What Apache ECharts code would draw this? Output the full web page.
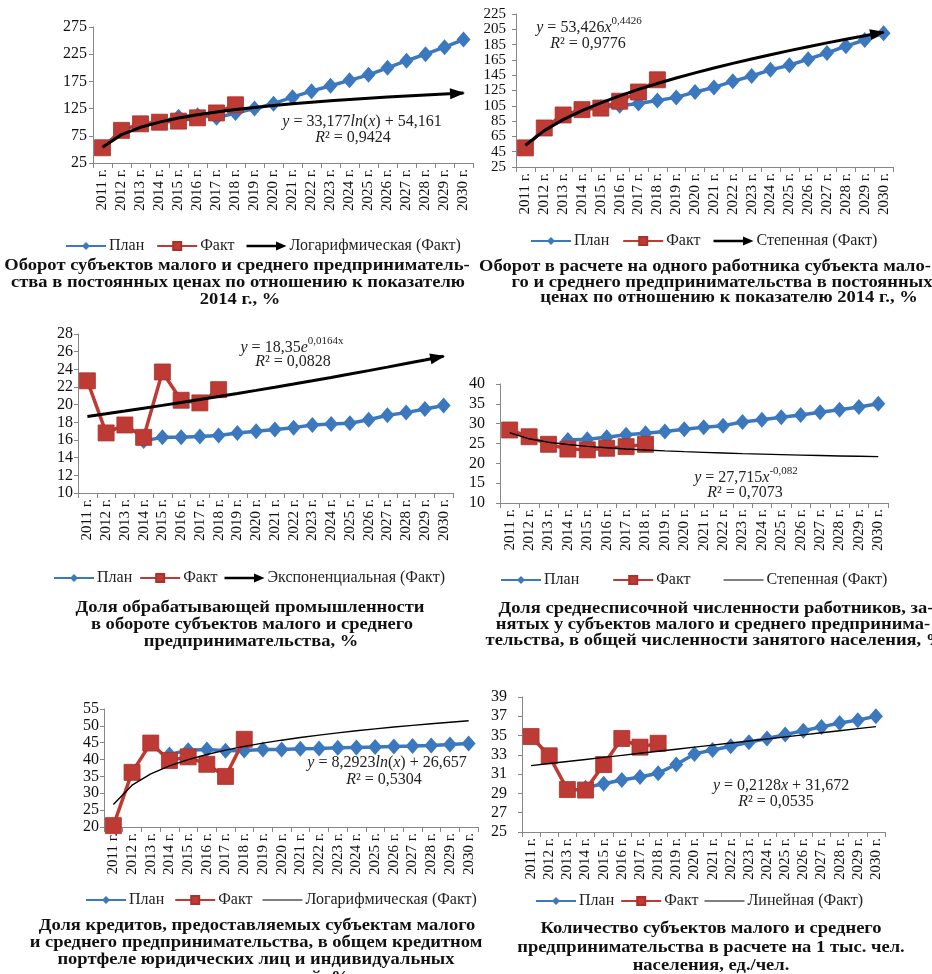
<!DOCTYPE html>
<html>
<head>
<meta charset="utf-8">
<script src="https://cdn.jsdelivr.net/npm/echarts@6/dist/echarts.min.js"></script>
<style>
  html, body { margin: 0; padding: 0; background: #ffffff; }
  #chart { width: 932px; height: 974px; }
</style>
</head>
<body>
<div id="chart"></div>
<script>
// Years on every horizontal axis
const years = ['2011 г.', '2012 г.', '2013 г.', '2014 г.', '2015 г.', '2016 г.', '2017 г.',
  '2018 г.', '2019 г.', '2020 г.', '2021 г.', '2022 г.', '2023 г.', '2024 г.', '2025 г.',
  '2026 г.', '2027 г.', '2028 г.', '2029 г.', '2030 г.'];

// 1. Turnover, % of 2014
const turnoverPlan = [null, null, null, 100, 110, 113, 108, 117, 125, 134, 146, 157, 167, 177, 187, 200, 213, 225, 238, 252];
const turnoverFact = [53, 85, 97, 100, 102, 108, 117, 132];
const turnoverTrend = [33.177, 54.161];            // y = a*ln(x) + b

// 2. Turnover per worker, % of 2014
const perWorkerPlan = [null, null, null, 100, 103, 105, 108, 112, 116, 123, 129, 137, 144, 152, 158, 166, 174, 183, 191, 200];
const perWorkerFact = [50, 76, 93, 100, 102, 111, 123, 139];
const perWorkerTrend = [53.426, 0.4426];           // y = a*x^b

// 3. Manufacturing share, %
const manufPlan = [null, null, null, 15.9, 16.3, 16.3, 16.4, 16.5, 16.8, 17.0, 17.2, 17.4, 17.7, 17.8, 17.9, 18.3, 18.8, 19.1, 19.5, 19.9];
const manufFact = [22.7, 16.8, 17.7, 16.3, 23.7, 20.5, 20.2, 21.7];
const manufTrend = [18.35, 0.0164];                // y = a*e^(b*x)

// 4. Employment share, %
const employPlan = [null, null, null, 25.9, 26.1, 26.6, 27.2, 27.6, 28.0, 28.6, 29.1, 29.5, 30.4, 31.0, 31.6, 32.2, 32.9, 33.5, 34.2, 35.0];
const employFact = [28.4, 26.7, 24.8, 23.6, 23.4, 23.8, 24.2, 24.8];
const employTrend = [27.715, -0.082];              // y = a*x^b

// 5. Credit share, %
const creditPlan = [null, null, null, 41.5, 42.8, 43.0, 42.6, 42.7, 43.0, 43.0, 43.2, 43.3, 43.5, 43.6, 43.7, 43.9, 44.0, 44.2, 44.5, 44.8];
const creditFact = [20.4, 36.2, 44.9, 39.7, 40.8, 38.6, 35.0, 46.0];
const creditTrend = [8.2923, 26.657];              // y = a*ln(x) + b

// 6. Enterprises per 1000 people
const countPlan = [null, null, null, 29.6, 30.0, 30.4, 30.7, 31.1, 32.0, 33.1, 33.5, 33.9, 34.3, 34.7, 35.1, 35.5, 35.9, 36.3, 36.6, 37.0];
const countFact = [34.9, 32.9, 29.4, 29.35, 32.0, 34.7, 33.8, 34.2];
const countTrend = [0.2128, 31.672];               // y = a*x + b

const SERIF = "'Liberation Serif', 'Times New Roman', serif";
const BLUE = '#3B78BE';
const RED = '#BE3B35';
const AXIS = '#868686';

const xs = years.map((_, i) => i + 1);
const trendLog = (c) => xs.map(x => +(c[0] * Math.log(x) + c[1]).toFixed(3));
const trendPow = (c) => xs.map(x => +(c[0] * Math.pow(x, c[1])).toFixed(3));
const trendExp = (c) => xs.map(x => +(c[0] * Math.exp(c[1] * x)).toFixed(3));
const trendLin = (c) => xs.map(x => +(c[0] * x + c[1]).toFixed(3));

const panels = [
  { grid: { left: 93, top: 27, width: 380, height: 136 }, min: 25, max: 275, step: 50, margin: 6, yFont: 16,
    plan: turnoverPlan, fact: turnoverFact, trend: trendLog(turnoverTrend), trendName: 'Логарифмическая (Факт)', arrow: true,
    legend: { left: 65, top: 238, gap: 12 } },
  { grid: { left: 516, top: 14, width: 377, height: 153 }, min: 25, max: 225, step: 20, margin: 10, yFont: 15,
    plan: perWorkerPlan, fact: perWorkerFact, trend: trendPow(perWorkerTrend), trendName: 'Степенная (Факт)', arrow: true,
    legend: { left: 530, top: 233, gap: 13 } },
  { grid: { left: 78, top: 334, width: 375, height: 159 }, min: 10, max: 28, step: 2, margin: 5, yFont: 16,
    plan: manufPlan, fact: manufFact, trend: trendExp(manufTrend), trendName: 'Экспоненциальная (Факт)', arrow: true,
    legend: { left: 53, top: 570, gap: 7 } },
  { grid: { left: 500, top: 384, width: 388, height: 119 }, min: 10, max: 40, step: 5, margin: 15, yFont: 16,
    plan: employPlan, fact: employFact, trend: trendPow(employTrend), trendName: 'Степенная (Факт) ', arrow: false,
    legend: { left: 500, top: 572, gap: 33 } },
  { grid: { left: 104, top: 709, width: 374, height: 118 }, min: 20, max: 55, step: 5, margin: 5, yFont: 16,
    plan: creditPlan, fact: creditFact, trend: trendLog(creditTrend), trendName: 'Логарифмическая (Факт) ', arrow: false,
    legend: { left: 85, top: 892, gap: 10 } },
  { grid: { left: 522, top: 697, width: 363, height: 135 }, min: 25, max: 39, step: 2, margin: 15, yFont: 16,
    plan: countPlan, fact: countFact, trend: trendLin(countTrend), trendName: 'Линейная (Факт)', arrow: false,
    legend: { left: 535, top: 893, gap: 6 } }
];

const ARROW_ICON = 'path://M0,0M42,10M0,3.8L31,3.8L31,0.3L42,5L31,9.7L31,6.2L0,6.2Z';
const THIN_ICON = 'path://M0,0M40,10M0,4.4L40,4.4L40,5.6L0,5.6Z';

// Text helpers for equations and captions
const EQ_RICH = {
  n: { fontFamily: SERIF, fontSize: 16, verticalAlign: 'bottom', lineHeight: 20, fill: '#222' },
  i: { fontFamily: SERIF, fontSize: 16, fontStyle: 'italic', verticalAlign: 'bottom', lineHeight: 20, fill: '#222' },
  s: { fontFamily: SERIF, fontSize: 11, verticalAlign: 'top', lineHeight: 12, fill: '#222' }
};
function eq(x, y, text) {
  return { type: 'text', x: x, y: y, silent: true, z: 100,
    style: { text: text, rich: EQ_RICH, fontFamily: SERIF, fontSize: 16, fill: '#222', align: 'center', verticalAlign: 'middle' } };
}
function caption(x, y, text) {
  return { type: 'text', x: x, y: y, scaleX: 1.09, silent: true, z: 100,
    style: { text: text, fontFamily: SERIF, fontSize: 17, fontWeight: 'bold', fill: '#111', align: 'center', verticalAlign: 'middle' } };
}

const graphics = [
  eq(362, 120, '{i|y}{n| = 33,177}{i|ln}{n|(}{i|x}{n|) + 54,161}'),
  eq(353, 136, '{i|R}{n|² = 0,9424}'),
  eq(589, 26, '{i|y}{n| = 53,426}{i|x}{s|0,4426}'),
  eq(588, 42, '{i|R}{n|² = 0,9776}'),
  eq(292, 346, '{i|y}{n| = 18,35}{i|e}{s|0,0164x}'),
  eq(293, 360, '{i|R}{n|² = 0,0828}'),
  eq(746, 476, '{i|y}{n| = 27,715}{i|x}{s|-0,082}'),
  eq(745, 491, '{i|R}{n|² = 0,7073}'),
  eq(387, 761, '{i|y}{n| = 8,2923}{i|ln}{n|(}{i|x}{n|) + 26,657}'),
  eq(384, 778, '{i|R}{n|² = 0,5304}'),
  eq(781, 784, '{i|y}{n| = 0,2128}{i|x}{n| + 31,672}'),
  eq(776, 800, '{i|R}{n|² = 0,0535}'),

  caption(237, 266, 'Оборот субъектов малого и среднего предприниматель-'),
  caption(238, 283, 'ства в постоянных ценах по отношению к показателю'),
  caption(240, 300, '2014 г., %'),

  caption(705, 267, 'Оборот в расчете на одного работника субъекта мало-'),
  caption(722, 283, 'го и среднего предпринимательства в постоянных'),
  caption(729, 298, 'ценах по отношению к показателю 2014 г., %'),

  caption(250, 608, 'Доля обрабатывающей промышленности'),
  caption(252, 625, 'в обороте субъектов малого и среднего'),
  caption(251, 642, 'предпринимательства, %'),

  caption(716, 609, 'Доля среднесписочной численности работников, за-'),
  caption(713, 625, 'нятых у субъектов малого и среднего предпринима-'),
  caption(715, 641, 'тельства, в общей численности занятого населения, %'),

  caption(257, 926, 'Доля кредитов, предоставляемых субъектам малого'),
  caption(256, 943, 'и среднего предпринимательства, в общем кредитном'),
  caption(256, 960, 'портфеле юридических лиц и индивидуальных'),
  caption(256, 978, 'предпринимателей, %'),

  caption(711, 929, 'Количество субъектов малого и среднего'),
  caption(711, 948, 'предпринимательства в расчете на 1 тыс. чел.'),
  caption(711, 966, 'населения, ед./чел.')
];

function buildOption(arrows) {
  const grid = [], xAxis = [], yAxis = [], series = [], legend = [];
  panels.forEach((p, k) => {
    grid.push(Object.assign({ containLabel: false, outerBoundsMode: 'none' }, p.grid));
    xAxis.push({
      type: 'category', gridIndex: k, data: years, boundaryGap: true,
      axisLine: { show: true, lineStyle: { color: AXIS, width: 1 } },
      axisTick: { show: true, length: 5, alignWithLabel: false, interval: 0, lineStyle: { color: AXIS } },
      axisLabel: { show: true, rotate: 90, interval: 0, margin: 6, hideOverlap: false,
        fontFamily: SERIF, fontSize: 15, color: '#111' },
      splitLine: { show: false }
    });
    yAxis.push({
      type: 'value', gridIndex: k, min: p.min, max: p.max, interval: p.step,
      axisLine: { show: true, lineStyle: { color: AXIS, width: 1 } },
      axisTick: { show: true, length: 4, lineStyle: { color: AXIS } },
      axisLabel: { show: true, margin: p.margin, hideOverlap: false, showMinLabel: true, showMaxLabel: true,
        fontFamily: SERIF, fontSize: p.yFont, lineHeight: 12, color: '#111' },
      splitLine: { show: false }
    });
    series.push({
      type: 'line', name: 'План', xAxisIndex: k, yAxisIndex: k, data: p.plan,
      symbol: 'diamond', symbolSize: [14, 16], showAllSymbol: true,
      lineStyle: { color: BLUE, width: 3.5 }, itemStyle: { color: BLUE },
      silent: true, z: 2
    });
    series.push({
      type: 'line', name: 'Факт', xAxisIndex: k, yAxisIndex: k, data: p.fact,
      symbol: 'rect', symbolSize: 16, showAllSymbol: true,
      lineStyle: { color: RED, width: 3.5 }, itemStyle: { color: RED, borderColor: '#A9302B', borderWidth: 0.8 },
      silent: true, z: 3
    });
    const a = arrows && arrows[k];
    const tdata = p.trend.map((v, i) => {
      if (p.arrow && i === p.trend.length - 1) {
        return { value: v, symbol: 'triangle', symbolSize: [11, 15],
          symbolRotate: a ? a.rot : 0, symbolOffset: a ? a.off : [0, 0] };
      }
      return { value: v, symbol: 'none' };
    });
    series.push({
      type: 'line', name: p.trendName, xAxisIndex: k, yAxisIndex: k, data: tdata,
      symbol: 'none', showAllSymbol: true, smooth: false,
      lineStyle: { color: '#000', width: p.arrow ? 3 : 1.4 }, itemStyle: { color: '#000' },
      silent: true, z: 4
    });
    legend.push({
      left: p.legend.left, top: p.legend.top, orient: 'horizontal', padding: 0,
      itemWidth: 40, itemHeight: 10, itemGap: p.legend.gap, selectedMode: false,
      textStyle: { fontFamily: SERIF, fontSize: 16, color: '#222', padding: [0, 0, 0, -2] },
      data: [
        { name: 'План' },
        { name: 'Факт' },
        { name: p.trendName, icon: p.arrow ? ARROW_ICON : THIN_ICON }
      ]
    });
  });
  return {
    backgroundColor: '#ffffff',
    animation: false,
    grid: grid, xAxis: xAxis, yAxis: yAxis, series: series, legend: legend,
    graphic: graphics
  };
}

const chart = echarts.init(document.getElementById('chart'), null, { renderer: 'canvas' });
chart.setOption(buildOption(null));

// Orient the arrowheads along the last segment of each trend line
const arrows = panels.map((p, k) => {
  if (!p.arrow) return null;
  const sIdx = k * 3 + 2;
  const n = p.trend.length;
  const a = chart.convertToPixel({ seriesIndex: sIdx }, [n - 2, p.trend[n - 2]]);
  const b = chart.convertToPixel({ seriesIndex: sIdx }, [n - 1, p.trend[n - 1]]);
  const dx = b[0] - a[0], dy = b[1] - a[1];
  const len = Math.sqrt(dx * dx + dy * dy) || 1;
  const rot = Math.atan2(-dy, dx) * 180 / Math.PI - 90;
  return { rot: rot, off: [-6 * dx / len, -6 * dy / len] };
});
chart.setOption(buildOption(arrows), true);
</script>
</body>
</html>
